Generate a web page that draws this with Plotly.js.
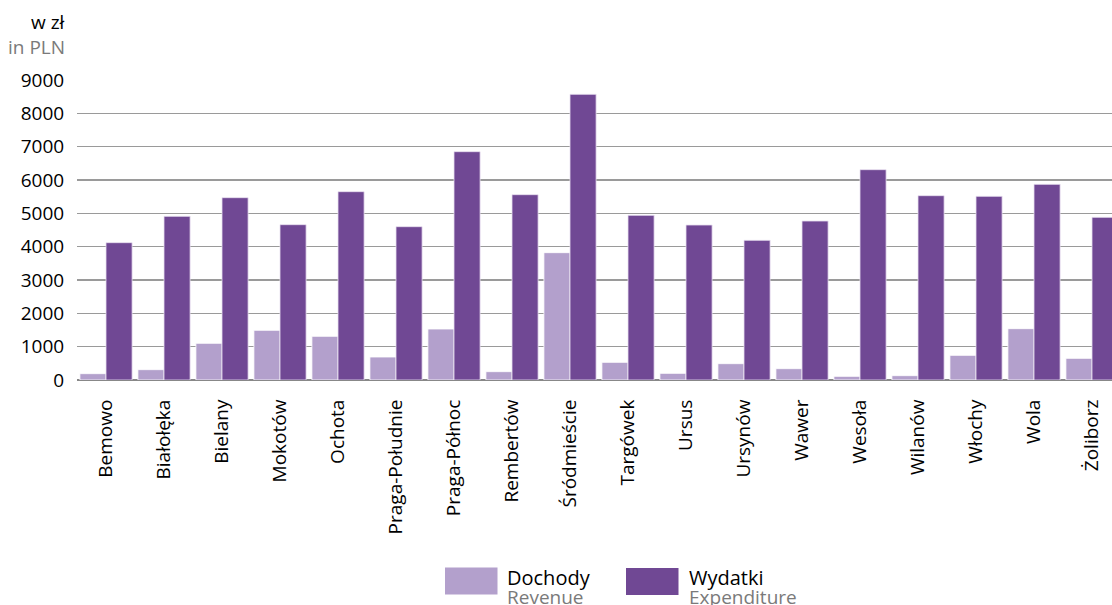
<!DOCTYPE html>
<html><head><meta charset="utf-8">
<script src="https://cdn.plot.ly/plotly-3.0.1.min.js"></script>
<style>html,body{margin:0;padding:0;background:#fff}</style>
</head><body><div id="chart" style="width:1112px;height:605px"></div>
<script>
const districts = ["Bemowo","Białołęka","Bielany","Mokotów","Ochota","Praga-Południe","Praga-Północ","Rembertów","Śródmieście","Targówek","Ursus","Ursynów","Wawer","Wesoła","Wilanów","Włochy","Wola","Żoliborz"];
const revenue = [190,310,1100,1490,1310,690,1530,250,3820,530,200,490,340,110,130,740,1540,650];
const expenditure = [4120,4910,5470,4660,5650,4600,6850,5560,8570,4940,4650,4190,4770,6310,5530,5510,5870,4880];
const yTicks = [0,1000,2000,3000,4000,5000,6000,7000,8000,9000];
const revColor = "#b3a0cc", expColor = "#704894";
const FONT = "Open Sans, sans-serif";

const traces = [
  {type:"bar", name:"Dochody", x:districts, y:revenue, marker:{color:revColor, line:{color:"#ffffff", width:0.8}}, showlegend:false, hoverinfo:"x+y"},
  {type:"bar", name:"Wydatki", x:districts, y:expenditure, marker:{color:expColor, line:{color:"#e8e0f0", width:0.8}}, showlegend:false, hoverinfo:"x+y"}
];

const L = 77, R = 1112, T = 80, B = 380;
const px = v => (v - L) / (R - L);
const py = v => (B - v) / (B - T);

const layout = {
  width:1112, height:605,
  margin:{l:L, r:0, t:T, b:605-B, pad:0},
  paper_bgcolor:"#fff", plot_bgcolor:"#fff",
  barmode:"group", bargap:0.1, bargroupgap:0,
  font:{family:FONT, color:"#000", size:19},
  xaxis:{type:"category", range:[-0.5, -0.5 + (R - L)/58], tickangle:-90, ticks:"outside", ticklen:11, tickcolor:"rgba(0,0,0,0)",
         tickfont:{family:FONT, size:19, color:"#000"}, showgrid:false, showline:false, zeroline:false, fixedrange:true},
  yaxis:{range:[0,9000], tickvals:yTicks, ticktext:yTicks.map(String), ticks:"outside", ticklen:8, tickcolor:"rgba(0,0,0,0)",
         tickfont:{family:FONT, size:19, color:"#000"}, showgrid:true, gridcolor:"#9a9a9a", gridwidth:1.3,
         zeroline:true, zerolinecolor:"#888", zerolinewidth:1.5, showline:false, fixedrange:true},
  shapes:[
    {type:"rect", xref:"paper", yref:"paper", x0:px(445), x1:px(497.5), y0:py(594.5), y1:py(567.5), fillcolor:revColor, line:{width:0}},
    {type:"rect", xref:"paper", yref:"paper", x0:px(626), x1:px(678.5), y0:py(595), y1:py(568), fillcolor:expColor, line:{width:0}}
  ],
  annotations:[
    {xref:"paper", yref:"paper", x:px(67), y:py(22), xanchor:"right", yanchor:"middle", text:"w zł", showarrow:false, font:{family:FONT, size:19, color:"#000"}},
    {xref:"paper", yref:"paper", x:px(67), y:py(47), xanchor:"right", yanchor:"middle", text:"in PLN", showarrow:false, font:{family:FONT, size:19, color:"#7a7a7a"}},
    {xref:"paper", yref:"paper", x:px(505), y:py(577), xanchor:"left", yanchor:"middle", text:"Dochody", showarrow:false, font:{family:FONT, size:20, color:"#000"}},
    {xref:"paper", yref:"paper", x:px(505), y:py(597), xanchor:"left", yanchor:"middle", text:"Revenue", showarrow:false, font:{family:FONT, size:19, color:"#7a7a7a"}},
    {xref:"paper", yref:"paper", x:px(687), y:py(577), xanchor:"left", yanchor:"middle", text:"Wydatki", showarrow:false, font:{family:FONT, size:20, color:"#000"}},
    {xref:"paper", yref:"paper", x:px(687), y:py(597), xanchor:"left", yanchor:"middle", text:"Expenditure", showarrow:false, font:{family:FONT, size:19, color:"#7a7a7a"}}
  ]
};
Plotly.newPlot("chart", traces, layout, {displayModeBar:false, staticPlot:true});
</script></body></html>
